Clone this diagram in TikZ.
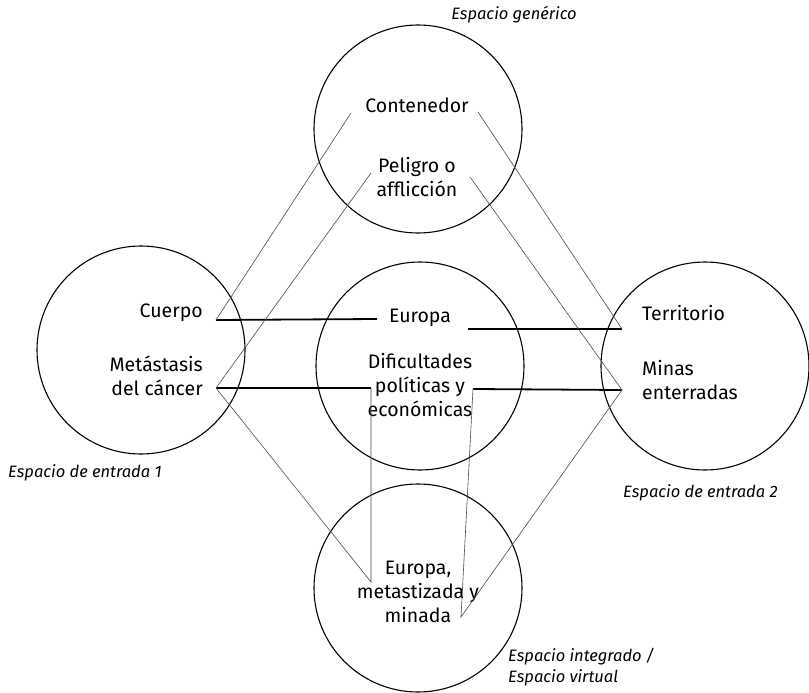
\documentclass[tikz,border=0pt]{standalone}
\usepackage{fontspec}
\setmainfont{Fira Sans}
\begin{document}
\begin{tikzpicture}[x=1pt,y=-1pt,
  space/.style={draw=black, line width=1.1pt, circle, minimum size=208pt, inner sep=0pt},
  txt/.style={inner sep=0pt, font=\fontsize{19.5}{24}\selectfont, align=center},
  caption/.style={inner sep=0pt, font=\fontsize{16.5}{21}\selectfont\itshape, align=left},
  link/.style={draw=black!70, line width=0.6pt},
  mapping/.style={draw=black, line width=1.8pt}]
\useasboundingbox (0,0) rectangle (809,693);

% the five mental spaces
\node[space] (generic) at (418,129) {};
\node[space] (input1)  at (141,350) {};
\node[space] (middle)  at (420,366) {};
\node[space] (input2)  at (705,366) {};
\node[space] (blend)   at (418,588) {};

% space labels
\node[caption, anchor=base] (lgen) at (514,20) {Espacio genérico};
\node[caption, anchor=base west] (lin1) at (8,477) {Espacio de entrada 1};
\node[caption, anchor=base west] (lin2) at (623,497) {Espacio de entrada 2};
\node[caption, anchor=north west] (lbl) at (508,648) {Espacio integrado /\\Espacio virtual};

% contents of each space
\node[txt, anchor=base] (cont) at (417,113) {Contenedor};
\node[txt] (peli) at (417,177) {Peligro o\\afflicción};
\node[txt, anchor=base east] (cuer) at (203,317) {Cuerpo};
\node[txt, align=right, anchor=east] (meta) at (203,376) {Metástasis\\del cáncer};
\node[txt, anchor=base] (euro) at (420,322) {Europa};
\node[txt] (difi) at (420,385) {Dificultades\\políticas y\\económicas};
\node[txt, align=left, anchor=base west] (terr) at (642,320) {Territorio};
\node[txt, align=left, anchor=west] (mina) at (642,380) {Minas\\enterradas};
\node[txt] (euro2) at (418,592) {Europa,\\metastizada y\\minada};

% anchoring points of the connectors
\coordinate (coL) at (351,113);
\coordinate (coR) at (478,112);
\coordinate (peL) at (371,173);
\coordinate (peR) at (470,177);
\coordinate (cuR) at (216,320);
\coordinate (meR) at (216,388);
\coordinate (euL) at (377,319);
\coordinate (euR) at (468,329);
\coordinate (diL) at (371,388);
\coordinate (diR) at (473,389);
\coordinate (teL) at (622,329);
\coordinate (miL) at (622,390);
\coordinate (blL) at (371,582);
\coordinate (blR) at (461,617);

% cross-space mappings
\draw[mapping] (cuR) -- (euL);
\draw[mapping] (euR) -- (teL);
\draw[mapping] (meR) -- (diL);
\draw[mapping] (diR) -- (miL);

% projections from the generic space
\draw[link] (coL) -- (cuR);
\draw[link] (peL) -- (meR);
\draw[link] (coR) -- (teL);
\draw[link] (peR) -- (miL);

% projections into the blend
\draw[link] (meR) -- (blL) -- (diL);
\draw[link] (miL) -- (blR) -- (diR);
\end{tikzpicture}
\end{document}
